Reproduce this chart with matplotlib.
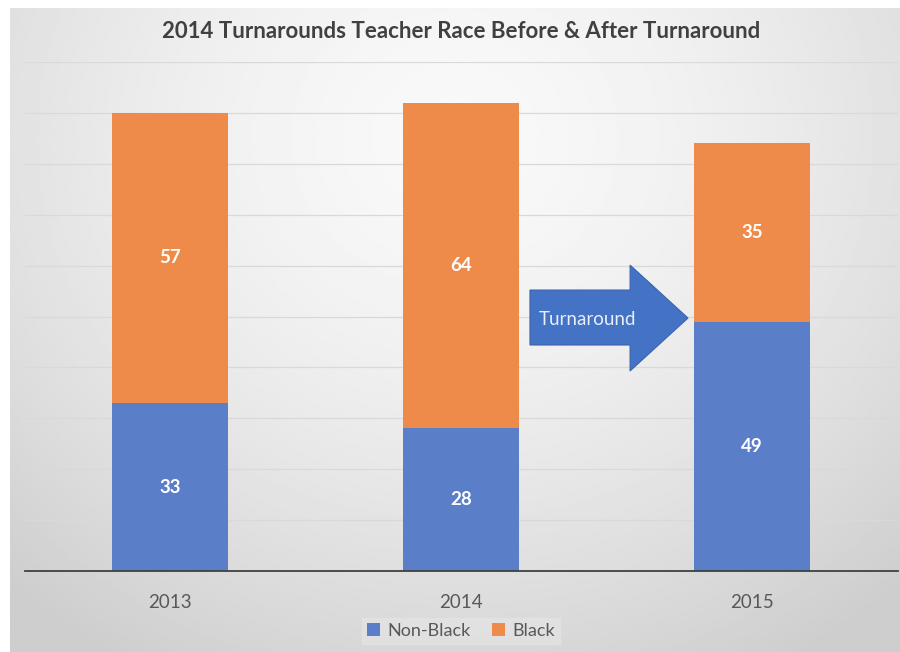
import matplotlib.pyplot as plt
from matplotlib.patches import Polygon
import numpy as np

# Teacher counts by year
years = ["2013", "2014", "2015"]
non_black = [33, 28, 49]
black = [57, 64, 35]

plt.rcParams["font.family"] = ["Lato", "DejaVu Sans"]

fig = plt.figure(figsize=(9, 6.52), dpi=100)
fig.patch.set_facecolor("white")

# Soft radial gradient panel behind the chart
bg = fig.add_axes([10 / 900, 0, 890 / 900, 644 / 652], zorder=0)
yy, xx = np.mgrid[0:1:300j, 0:1:400j]
r = np.sqrt(((xx - 0.5) / 0.75) ** 2 + ((yy - 0.2) / 0.95) ** 2)
shade = 0.975 - 0.17 * np.clip(r, 0, 1) ** 1.6
bg.imshow(shade, cmap="gray", vmin=0, vmax=1, aspect="auto",
          extent=[0, 1, 1, 0], interpolation="bilinear")
bg.axis("off")

ax = fig.add_axes([24.5 / 900, 1 - 571 / 652, 873 / 900, 509 / 652], zorder=1)
ax.patch.set_alpha(0)

x = np.arange(len(years))
w = 0.4
ax.bar(x, non_black, w, color="#5a7fc8", label="Non-Black", zorder=2)
ax.bar(x, black, w, bottom=non_black, color="#ee8b4a", label="Black", zorder=2)

# Segment values
for i in range(len(years)):
    ax.text(x[i], non_black[i] / 2, str(non_black[i]), ha="center", va="center",
            color="white", fontsize=13.5, fontweight="bold", zorder=3)
    ax.text(x[i], non_black[i] + black[i] / 2, str(black[i]), ha="center",
            va="center", color="white", fontsize=13.5, fontweight="bold", zorder=3)

ax.set_xlim(-0.5, 2.5)
ax.set_ylim(0, 100)
ax.set_yticks(np.arange(10, 101, 10))
ax.yaxis.grid(True, color="#d9d9d9", lw=0.9)
ax.set_axisbelow(True)
ax.tick_params(axis="y", left=False, labelleft=False)
ax.tick_params(axis="x", bottom=False, labelsize=13.5, labelcolor="#595959", pad=13)
ax.set_xticks(x)
ax.set_xticklabels(years)
for s in ["top", "right", "left"]:
    ax.spines[s].set_visible(False)
ax.spines["bottom"].set_color("#404040")
ax.spines["bottom"].set_linewidth(1.3)

# Block arrow between 2014 and 2015
arrow = Polygon([(1.237, 44.4), (1.581, 44.4), (1.581, 39.3), (1.780, 49.7),
                 (1.581, 60.1), (1.581, 55.2), (1.237, 55.2)],
                closed=True, facecolor="#4472c4", edgecolor="#3a64b0",
                lw=0.8, zorder=4)
ax.add_patch(arrow)
ax.text(1.436, 49.5, "Turnaround", ha="center", va="center", color="#e9eef8",
        fontsize=13.5, zorder=5)

fig.text(461 / 900, 1 - 32 / 652,
         "2014 Turnarounds Teacher Race Before & After Turnaround",
         ha="center", va="center", fontsize=16, fontweight="bold", color="#404040")

leg = fig.legend(loc="center", bbox_to_anchor=(461 / 900, 1 - 631 / 652), ncol=2,
                 frameon=True, fontsize=13, handlelength=0.7, handleheight=0.7,
                 handletextpad=0.4, columnspacing=1.2, borderpad=0.3)
leg.get_frame().set_facecolor("#e3e3e3")
leg.get_frame().set_edgecolor("#e3e3e3")
leg.get_frame().set_boxstyle("square", pad=0)
for t in leg.get_texts():
    t.set_color("#595959")

fig.savefig("out.png", dpi=100)
